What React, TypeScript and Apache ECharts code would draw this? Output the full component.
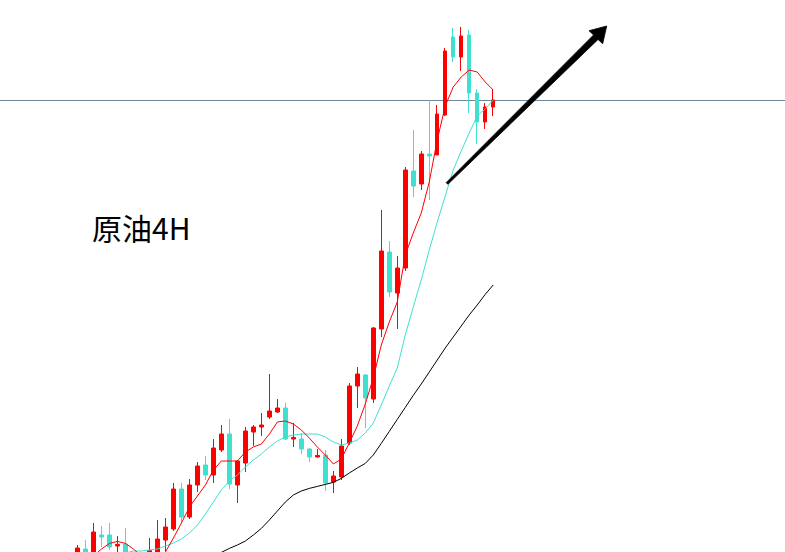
import React, { useEffect, useRef } from "react";
import * as echarts from "echarts";

// 4H crude oil candles: open, close, low, high
const opens = [
  61.75, 62.55, 61.25, 63.25, 63.25, 62.7, 62.8, 61.9, 61.55, 61.3,
  62.1, 63.0, 63.55, 65.55, 64.15, 65.75, 66.75, 66.25, 67.5, 68.3,
  65.75, 66.85, 68.4, 68.65, 69.15, 69.4, 69.6, 68.05, 68.05, 67.55,
  67.15, 67.25, 65.9, 66.15, 67.85, 70.7, 71.25, 70.05, 73.55, 77.4,
  75.35, 76.6, 81.45, 80.8, 82.3, 82.25, 84.25, 88.15, 87.15, 88.25,
  85.35, 83.9, 84.65,
];
const closes = [
  62.6, 61.7, 63.4, 63.15, 62.65, 62.78, 61.9, 61.5, 61.2, 62.47,
  63.05, 63.65, 65.55, 64.15, 65.75, 66.7, 66.25, 67.6, 68.3, 65.8,
  66.95, 68.45, 68.65, 68.75, 69.45, 69.6, 68.05, 68.13, 67.55, 67.15,
  67.23, 65.85, 66.2, 67.7, 70.7, 71.3, 70.1, 73.6, 77.45, 75.4,
  76.6, 81.5, 80.7, 82.3, 82.2, 84.3, 87.45, 87.15, 88.2, 85.35,
  83.9, 84.65, 85.0,
];
const lows = [
  61.5, 61.4, 61.0, 62.65, 62.5, 62.15, 61.7, 61.25, 61.0, 61.1,
  61.9, 62.45, 63.45, 63.9, 64.05, 65.4, 66.0, 65.85, 67.4, 65.55,
  64.85, 66.4, 67.7, 68.2, 69.05, 69.35, 68.0, 67.65, 67.3, 66.9,
  67.13, 65.45, 65.35, 66.0, 67.75, 69.6, 68.6, 69.85, 73.15, 75.15,
  73.55, 76.45, 80.15, 80.5, 80.0, 82.25, 84.2, 86.9, 86.45, 84.35,
  82.8, 83.55, 84.2,
];
const highs = [
  62.75, 63.0, 63.85, 63.7, 63.85, 63.2, 63.6, 62.2, 62.0, 63.1,
  64.0, 64.1, 65.85, 65.85, 66.05, 66.9, 67.2, 68.05, 68.75, 69.05,
  67.0, 68.65, 68.75, 69.35, 71.3, 70.05, 69.85, 68.85, 68.35, 67.6,
  67.55, 67.5, 66.45, 68.05, 70.85, 71.65, 71.3, 73.65, 79.5, 77.95,
  77.2, 81.65, 83.5, 82.45, 85.0, 84.75, 87.6, 88.6, 88.65, 88.5,
  85.55, 84.85, 85.55,
];

// moving averages
const maFast = [
  null, null, 62.2, 62.55, 62.83, 62.93, 62.83, 62.55, 62.2, 61.95,
  62.05, 62.4, 63.1, 63.85, 64.65, 65.2, 65.75, 66.5, 66.95, 66.95,
  66.95, 67.4, 67.65, 67.8, 68.3, 68.9, 68.95, 68.8, 68.5, 68.1,
  67.65, 67.25, 66.8, 67.05, 67.85, 68.7, 69.8, 71.1, 72.75, 73.9,
  74.9, 77.25, 78.35, 79.35, 80.9, 83.0, 84.7, 85.65, 86.15, 86.5,
  86.4, 85.9, 85.5,
];
const maMid = [
  null, null, null, null, null, null, 62.35, 62.45, 62.45, 62.5,
  62.55, 62.7, 62.85, 63.05, 63.35, 63.75, 64.3, 64.9, 65.5, 65.95,
  66.25, 66.65, 67.0, 67.3, 67.65, 67.95, 68.15, 68.25, 68.3, 68.3,
  68.3, 68.15, 67.9, 67.75, 67.85, 68.0, 68.35, 68.85, 69.75, 70.7,
  71.6, 73.25, 74.65, 76.0, 77.5, 78.9, 80.2, 81.5, 82.45, 83.35,
  84.2, 84.55, 85.0,
];
const maSlow = [
  null, null, null, null, null, null, null, null, null, null,
  null, null, null, null, null, 61.5, 61.8, 62.1, 62.38, 62.58,
  62.75, 62.95, 63.25, 63.58, 64.0, 64.45, 64.9, 65.25, 65.45, 65.58,
  65.68, 65.78, 65.88, 66.08, 66.35, 66.6, 66.83, 67.25, 67.83, 68.43,
  69.03, 69.63, 70.23, 70.8, 71.4, 72.0, 72.6, 73.15, 73.7, 74.25,
  74.75, 75.28, 75.75,
];

const levelPrice = 85.0;
const title = "原油4H";
const barCount = 89;
const categories = Array.from({ length: barCount }, (_, i) => String(i + 1));

export default function App() {
  const ref = useRef<HTMLDivElement>(null);
  useEffect(() => {
    const chart = echarts.init(ref.current!, null, { renderer: "svg" });
    const candles = opens.map((o, i) => [o, closes[i], lows[i], highs[i]]);
    chart.setOption({
      animation: false,
      backgroundColor: "#ffffff",
      grid: { left: 73.5, top: 0, width: 712, height: 552 },
      xAxis: {
        type: "category",
        data: categories,
        boundaryGap: true,
        show: false,
      },
      yAxis: {
        type: "value",
        min: 62.4,
        max: 90,
        show: false,
        splitLine: { show: false },
      },
      series: [
        {
          type: "candlestick",
          data: candles,
          barWidth: 4,
          itemStyle: {
            color: "#ff0000",
            color0: "#40e0d0",
            borderColor: "#ff0000",
            borderColor0: "#40e0d0",
            borderWidth: 1,
          },
        },
        {
          type: "line",
          data: maSlow,
          symbol: "none",
          smooth: false,
          lineStyle: { color: "#000000", width: 1 },
        },
        {
          type: "line",
          data: maMid,
          symbol: "none",
          lineStyle: { color: "#40e0d0", width: 1 },
        },
        {
          type: "line",
          data: maFast,
          symbol: "none",
          lineStyle: { color: "#ff0000", width: 1 },
        },
      ],
    });
    const yLevel = Math.round(chart.convertToPixel({ yAxisIndex: 0 }, levelPrice) as number) + 0.5;
    chart.setOption({
      graphic: [
        {
          type: "line",
          shape: { x1: 0, y1: yLevel, x2: 785, y2: yLevel },
          style: { stroke: "#71869a", lineWidth: 1 },
          z: 1,
        },
        {
          type: "polygon",
          shape: {
            points: [
              [447.84, 184.36],
              [598.04, 39.48],
              [602.7, 43.7],
              [606.7, 26],
              [589, 30.7],
              [593.56, 34.92],
              [446.16, 182.64],
            ],
          },
          style: { fill: "#000000", stroke: "#000000", lineWidth: 0.8 },
          z: 10,
        },
        {
          type: "text",
          x: 92,
          y: 227,
          style: {
            text: title,
            fill: "#000000",
            font: '30px "Noto Sans CJK SC", sans-serif',
            textAlign: "left",
            textVerticalAlign: "middle",
          },
          z: 10,
        },
      ],
    });
    return () => chart.dispose();
  }, []);
  return (
    <div
      ref={ref}
      style={{ position: "fixed", left: 0, top: 0, width: 785, height: 552 }}
    />
  );
}
